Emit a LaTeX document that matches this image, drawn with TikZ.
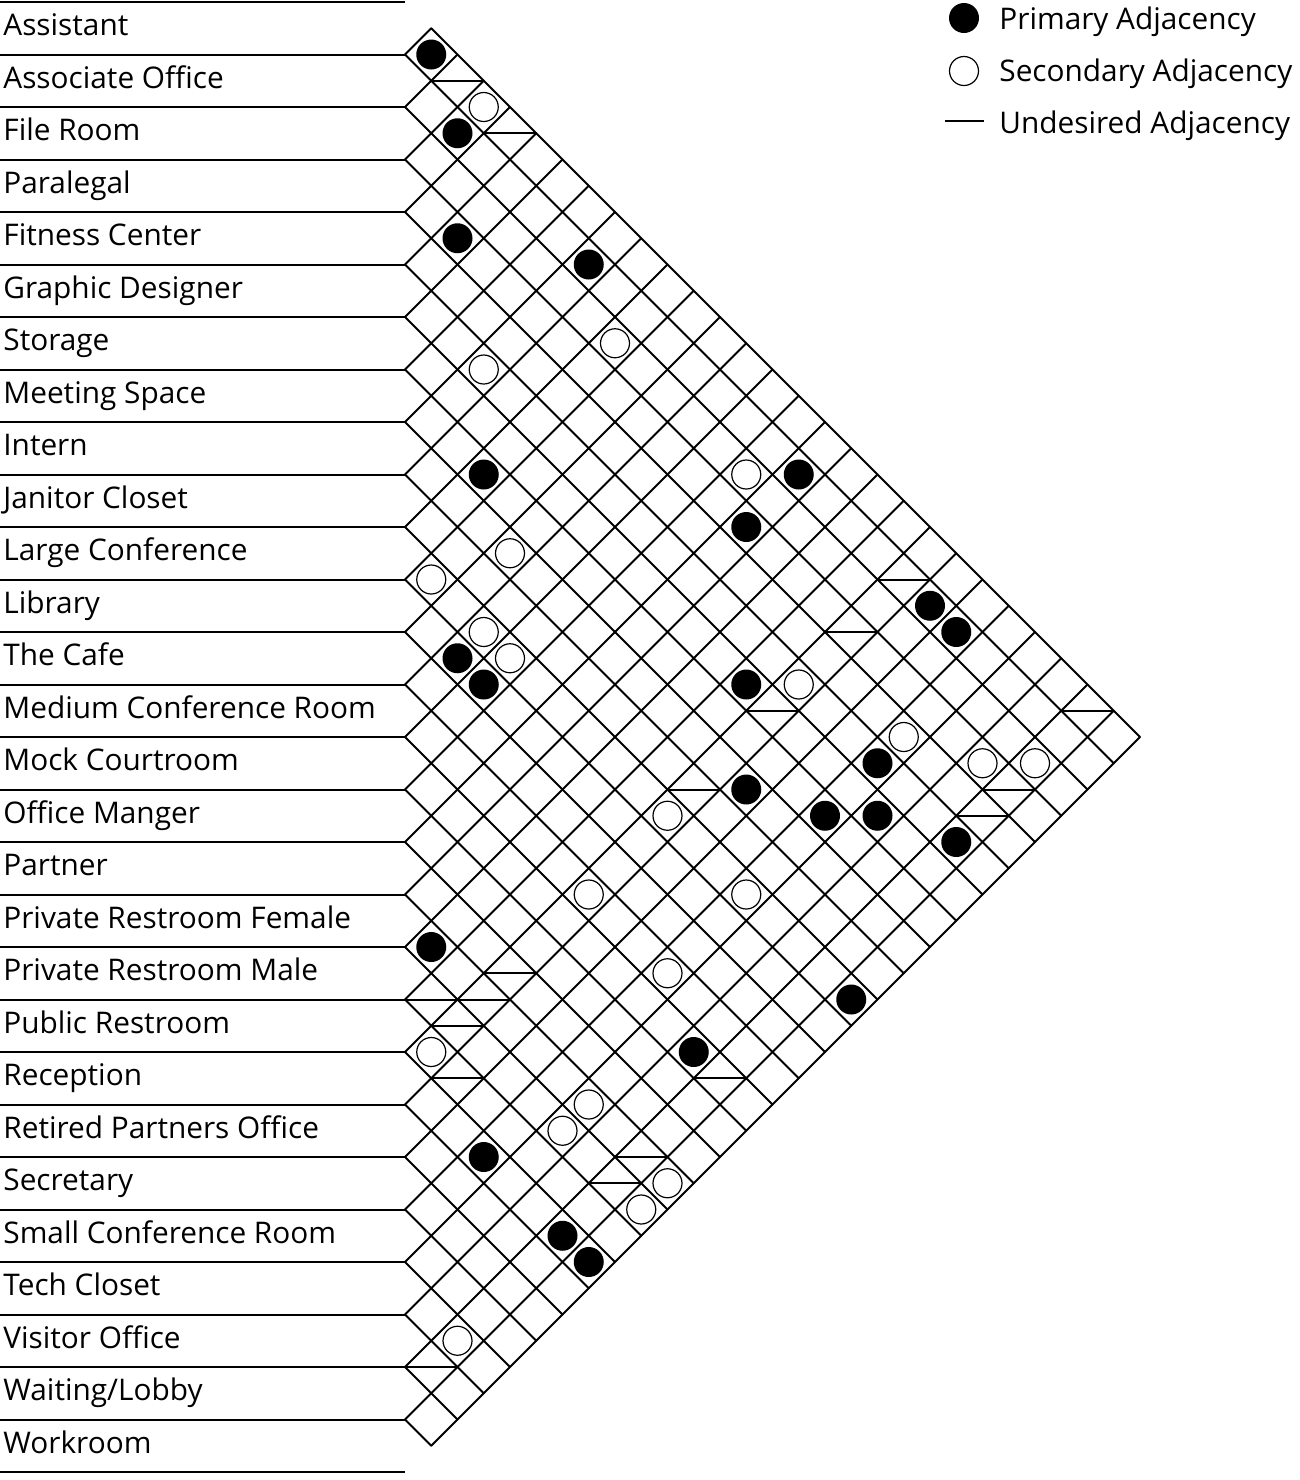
\documentclass[tikz,border=0pt]{standalone}
\usepackage{fontspec}
\setmainfont{Open Sans}
\begin{document}
\begin{tikzpicture}[x=0.5pt,y=-0.5pt,
  gridline/.style={line width=1pt, line cap=round},
  rowline/.style={line width=1pt},
  lbl/.style={anchor=base west, inner sep=0pt, font=\fontsize{14.9}{17}\selectfont},
  prim/.style={fill=black},
  secd/.style={draw=black, line width=0.6pt, fill=white},
  undes/.style={line width=1pt}]
\useasboundingbox (0,0) rectangle (1300,1480);
% row lines
\foreach \k in {0,...,28}{
  \draw[rowline] (0,{2+52.5*\k}) -- (405,{2+52.5*\k});
}
% labels
\foreach \n/\t [count=\i from 0] in {
  l0/Assistant, l1/Associate Office, l2/File Room, l3/Paralegal, l4/Fitness Center,
  l5/Graphic Designer, l6/Storage, l7/Meeting Space, l8/Intern, l9/Janitor Closet,
  l10/Large Conference, l11/Library, l12/The Cafe, l13/Medium Conference Room,
  l14/Mock Courtroom, l15/Office Manger, l16/Partner, l17/Private Restroom Female,
  l18/Private Restroom Male, l19/Public Restroom, l20/Reception,
  l21/Retired Partners Office, l22/Secretary, l23/Small Conference Room,
  l24/Tech Closet, l25/Visitor Office, l26/{Waiting/Lobby}, l27/Workroom}{
  \node[lbl] (\n) at (3,{28.25+52.5*\i+7.5}) {\t};
}
% grid: down-right lines
\draw[gridline] (431.25,28.25) -- (1140,737);
\foreach \k in {1,...,27}{
  \draw[gridline] (405,{2+52.5*\k}) -- ({(2280-52.5*\k)/2},{1877-(2280-52.5*\k)/2});
}
% grid: up-right lines
\draw[gridline] (431.25,1445.75) -- (1140,737);
\foreach \k in {1,...,27}{
  \draw[gridline] (405,{2+52.5*\k}) -- ({(810+52.5*\k)/2},{(810+52.5*\k)/2-403});
}
% undesired adjacencies
\foreach \i/\j in {0/2,0/4,1/20,3/20,6/20,0/26,9/20,3/26,4/26,16/20,18/19,17/20,
  18/20,19/21,14/26,17/26,18/26,25/26}{
  \draw[undes] ({405+26.25*(\j-\i)-26.25},{28.25+26.25*(\i+\j)}) --
               ({405+26.25*(\j-\i)+26.25},{28.25+26.25*(\i+\j)});
}
% primary adjacencies
\foreach \i/\j in {0/1,1/3,3/5,1/8,7/10,1/16,3/16,1/21,1/22,11/13,11/14,6/19,5/23,
  8/21,7/23,6/24,5/26,17/18,10/27,14/25,20/23,20/26,20/27}{
  \fill[prim] ({405+26.25*(\j-\i)},{28.25+26.25*(\i+\j)}) circle[radius=15];
}
% secondary adjacencies
\foreach \i/\j in {0/3,2/10,5/8,2/15,8/12,10/11,10/13,10/14,5/20,4/23,3/25,2/26,
  10/20,13/20,10/23,13/23,19/20,17/24,18/24,17/27,18/27,24/26}{
  \filldraw[secd] ({405+26.25*(\j-\i)},{28.25+26.25*(\i+\j)}) circle[radius=14.5];
}
% legend
\fill[prim] (964,18) circle[radius=15];
\node[lbl] (lg1) at (999,29) {Primary Adjacency};
\filldraw[secd] (964,71) circle[radius=14.5];
\node[lbl] (lg2) at (999,81) {Secondary Adjacency};
\draw[undes] (945,121) -- (984,121);
\node[lbl] (lg3) at (999,133) {Undesired Adjacency};
\end{tikzpicture}
\end{document}
